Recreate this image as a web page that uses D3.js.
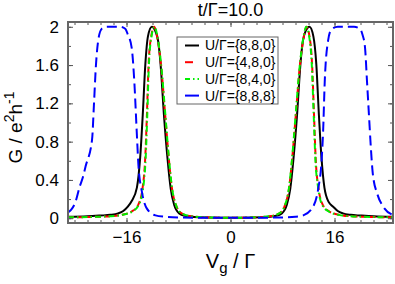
<!DOCTYPE html>
<html>
<head>
<meta charset="utf-8">
<script src="https://cdn.jsdelivr.net/npm/d3@7"></script>
<style>
  body { margin: 0; background: #fff; }
  svg { display: block; font-family: "Liberation Sans", Arial, sans-serif; }
</style>
</head>
<body>
<div id="vis"></div>
<script>
const WIDTH = 395;
const HEIGHT = 284;

// plot frame
const LEFT = 68, RIGHT = 393, TOP = 22, BOTTOM = 223;

const title = 't/\u0393=10.0'

// ticks
const xMajor = [-16, 0, 16]
const xMinor = d3.range(-24, 25, 2)
const yMajor = [0, 0.4, 0.8, 1.2, 1.6, 2]
const yMinor = d3.range(0, 2.01, 0.2)

// legend
const seriesNames = ['U/\u0393={8,8,0}', 'U/\u0393={4,8,0}', 'U/\u0393={8,4,0}', 'U/\u0393={8,8,8}']
const seriesColors = ['#000000', '#ff0000', '#00ee00', '#0000ff']
const seriesDash = [null, '6,3', '6,3,1.5,3', '10,5']

// [Vg/Γ, G in e^2/h]
const black = [[-25,0.015],[-22,0.02],[-20,0.028],[-18.5,0.035],[-17.3,0.05],[-16.5,0.075],[-15.8,0.12],
	[-15.2,0.18],[-14.4,0.32],[-13.9,0.63],[-13.5,1.08],[-13.1,1.61],[-12.7,1.9],[-12.1,2.0],[-11.6,1.96],
	[-11.13,1.85],[-10.76,1.61],[-10.24,1.08],[-9.7,0.63],[-9.2,0.31],[-8.67,0.14],[-7.9,0.05],[-7,0.025],
	[-5,0.01],[-2,0.005],[0,0.005],[2,0.005],[5,0.01],[7,0.025],[7.9,0.05],[8.67,0.14],[9.2,0.31],[9.7,0.63],
	[10.24,1.08],[10.76,1.61],[11.13,1.85],[11.6,1.96],[12.15,2.0],[12.75,1.9],[13.2,1.61],[13.6,1.08],
	[14.0,0.63],[14.45,0.32],[15.1,0.17],[15.8,0.12],[16.5,0.075],[17.3,0.05],[18.5,0.035],[20,0.028],
	[22,0.02],[25,0.015]]

const red = [[-25,0.01],[-22,0.012],[-20,0.016],[-18.5,0.02],[-16.8,0.035],[-15.2,0.07],[-14.2,0.14],
	[-13.54,0.31],[-13.12,0.63],[-12.86,1.08],[-12.6,1.61],[-12.2,1.9],[-11.75,2.0],[-11.3,1.9],[-10.7,1.61],
	[-10.05,1.08],[-9.5,0.63],[-9.0,0.31],[-8.4,0.14],[-7.5,0.05],[-6,0.02],[-3,0.008],[0,0.005],
	[3,0.008],[6,0.02],[7.5,0.05],[8.4,0.14],[9.0,0.31],[9.5,0.63],[10.05,1.08],[10.7,1.61],[11.3,1.9],
	[11.7,2.0],[12.15,1.9],[12.55,1.61],[12.85,1.08],[13.1,0.63],[13.55,0.31],[14.2,0.14],[15.2,0.07],
	[16.8,0.035],[18.5,0.02],[20,0.016],[22,0.012],[25,0.01]]

const green = [[-25,0.01],[-22,0.012],[-20,0.016],[-18.5,0.02],[-16.7,0.035],[-15.1,0.07],[-14.1,0.14],
	[-13.45,0.31],[-13.05,0.63],[-12.8,1.08],[-12.55,1.61],[-12.15,1.9],[-11.7,2.0],[-11.25,1.9],[-10.68,1.61],
	[-10.02,1.08],[-9.48,0.63],[-8.98,0.31],[-8.4,0.14],[-7.5,0.05],[-6,0.02],[-3,0.008],[0,0.005],
	[3,0.008],[6,0.02],[7.5,0.05],[8.4,0.14],[8.98,0.31],[9.48,0.63],[10.02,1.08],[10.68,1.61],[11.25,1.9],
	[11.65,2.0],[12.1,1.9],[12.5,1.61],[12.8,1.08],[13.05,0.63],[13.5,0.31],[14.1,0.14],[15.1,0.07],
	[16.7,0.035],[18.5,0.02],[20,0.016],[22,0.012],[25,0.01]]

const blue = [[-25,0.06],[-24.5,0.09],[-23.9,0.16],[-23.2,0.33],[-22.7,0.43],[-22.3,0.54],[-21.3,0.82],
	[-21.0,1.2],[-20.7,1.6],[-20.3,1.88],[-19.8,1.98],[-19,2.0],[-17,2.0],[-16.2,1.98],[-15.8,1.92],
	[-15.2,1.78],[-14.8,1.43],[-14.43,0.91],[-14.17,0.56],[-13.64,0.28],[-12.86,0.1],[-11.55,0.03],
	[-10,0.015],[-8,0.008],[-4,0.005],[0,0.005],[4,0.005],[8,0.008],[10,0.015],[11.2,0.03],[12.7,0.12],
	[13.5,0.31],[14.0,0.59],[14.25,0.91],[14.5,1.43],[15.0,1.85],[15.5,1.97],[16.5,2.0],[19,2.0],
	[19.9,1.98],[20.3,1.92],[20.7,1.78],[21.0,1.43],[21.3,1.08],[21.6,0.73],[21.9,0.46],[22.6,0.25],
	[23.5,0.12],[24.8,0.04],[25,0.035]]

const series = [black, red, green, blue]

let svg = d3.select('#vis')
	.append('svg')
	.attr('width', WIDTH)
	.attr('height', HEIGHT)

let x = d3.scaleLinear().domain([-25, 25]).range([LEFT, RIGHT])
let y = d3.scaleLinear().domain([-0.05, 2.05]).range([BOTTOM, TOP])

svg.append('clipPath').attr('id', 'clip')
	.append('rect')
	.attr('x', LEFT).attr('y', TOP)
	.attr('width', RIGHT - LEFT).attr('height', BOTTOM - TOP)

// curves
let line = d3.line()
	.x(d => x(d[0]))
	.y(d => y(d[1]))
	.curve(d3.curveMonotoneX)

svg.append('g')
	.attr('clip-path', 'url(#clip)')
	.selectAll('path')
	.data(series)
	.enter()
	.append('path')
	.attr('d', line)
	.attr('fill', 'none')
	.attr('stroke', (d, i) => seriesColors[i])
	.attr('stroke-width', 2)
	.attr('stroke-dasharray', (d, i) => seriesDash[i])

// axes, ticks pointing inward on all four sides
function styleAxis(g) {
	g.select('.domain').remove()
	g.selectAll('.tick line').attr('stroke', '#555').attr('stroke-width', 1)
	g.selectAll('.tick text').attr('fill', '#000').style('font-size', '17px')
		.style('font-family', '"Liberation Sans", Arial, sans-serif')
}

svg.append('g')
	.attr('transform', `translate(0,${BOTTOM})`)
	.call(d3.axisBottom(x).tickValues(xMinor).tickSize(-3).tickFormat(''))
	.call(styleAxis)
svg.append('g')
	.attr('transform', `translate(0,${BOTTOM})`)
	.call(d3.axisBottom(x).tickValues(xMajor).tickSize(-5).tickPadding(8).tickFormat(d3.format('d')))
	.call(styleAxis)
svg.append('g')
	.attr('transform', `translate(0,${TOP})`)
	.call(d3.axisTop(x).tickValues(xMinor).tickSize(-3).tickFormat(''))
	.call(styleAxis)
svg.append('g')
	.attr('transform', `translate(0,${TOP})`)
	.call(d3.axisTop(x).tickValues(xMajor).tickSize(-5).tickFormat(''))
	.call(styleAxis)

svg.append('g')
	.attr('transform', `translate(${LEFT},0)`)
	.call(d3.axisLeft(y).tickValues(yMinor).tickSize(-3).tickFormat(''))
	.call(styleAxis)
svg.append('g')
	.attr('transform', `translate(${LEFT},0)`)
	.call(d3.axisLeft(y).tickValues(yMajor).tickSize(-5).tickPadding(9).tickFormat(d => d3.format('~g')(d)))
	.call(styleAxis)
svg.append('g')
	.attr('transform', `translate(${RIGHT},0)`)
	.call(d3.axisRight(y).tickValues(yMinor).tickSize(-3).tickFormat(''))
	.call(styleAxis)
svg.append('g')
	.attr('transform', `translate(${RIGHT},0)`)
	.call(d3.axisRight(y).tickValues(yMajor).tickSize(-5).tickFormat(''))
	.call(styleAxis)

// frame
svg.append('rect')
	.attr('x', LEFT).attr('y', TOP)
	.attr('width', RIGHT - LEFT).attr('height', BOTTOM - TOP)
	.attr('fill', 'none')
	.attr('stroke', '#666')
	.attr('stroke-width', 2)

// title
svg.append('text')
	.attr('x', (LEFT + RIGHT) / 2)
	.attr('y', 16)
	.attr('text-anchor', 'middle')
	.style('font-size', '18px')
	.text(title)

// x label
let xl = svg.append('text')
	.attr('x', (LEFT + RIGHT) / 2)
	.attr('y', 268)
	.attr('text-anchor', 'middle')
	.style('font-size', '20px')
xl.append('tspan').text('V')
xl.append('tspan').attr('dy', 5).style('font-size', '15px').text('g')
xl.append('tspan').attr('dy', -5).text(' / \u0393')

// y label
let yl = svg.append('text')
	.attr('transform', `translate(22,${(TOP + BOTTOM) / 2 + 5}) rotate(-90)`)
	.attr('text-anchor', 'middle')
	.style('font-size', '19px')
yl.append('tspan').text('G / e')
yl.append('tspan').attr('dy', -8).style('font-size', '14px').text('2')
yl.append('tspan').attr('dy', 8).text('h')
yl.append('tspan').attr('dy', -8).style('font-size', '14px').text('-1')

// legend
let legend = svg.append('g')
	.attr('class', 'legend')
	.attr('transform', 'translate(177,37)')

legend.append('rect')
	.attr('width', 101)
	.attr('height', 67)
	.attr('fill', '#fff')
	.attr('stroke', '#666')
	.attr('stroke-width', 1)

legend.selectAll('line')
	.data(seriesNames)
	.enter()
	.append('line')
	.attr('x1', 8)
	.attr('x2', 22)
	.attr('y1', (d, i) => 8.5 + i * 16.7)
	.attr('y2', (d, i) => 8.5 + i * 16.7)
	.attr('stroke', (d, i) => seriesColors[i])
	.attr('stroke-width', 2)
	.attr('stroke-dasharray', (d, i) => i == 0 ? null : i == 2 ? '5,3,1.5,3' : i == 1 ? '8,6' : '14,0')

legend.selectAll('text')
	.data(seriesNames)
	.enter()
	.append('text')
	.attr('x', 28)
	.attr('y', (d, i) => 8.5 + i * 16.7)
	.attr('dy', '0.35em')
	.style('font-size', '14px')
	.text(d => d)
</script>
</body>
</html>
